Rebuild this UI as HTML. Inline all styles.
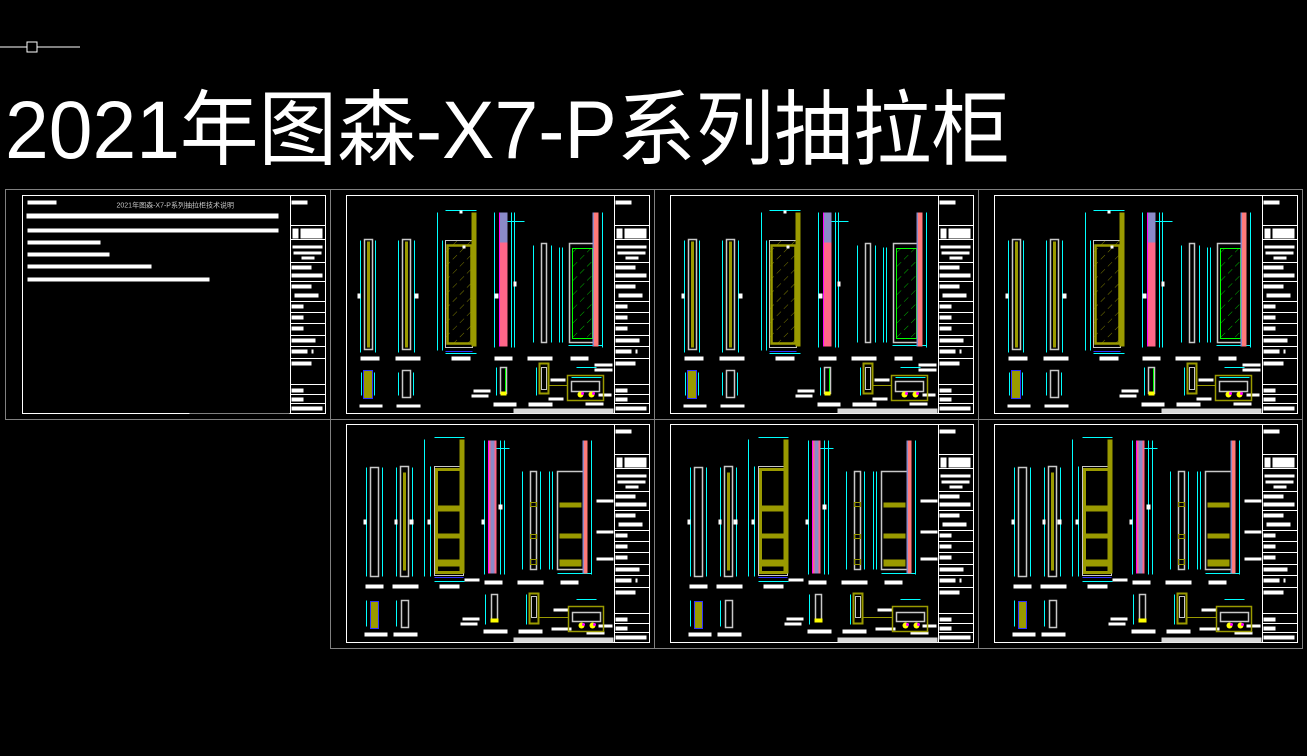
<!DOCTYPE html>
<html><head><meta charset="utf-8"><style>
html,body{margin:0;padding:0;background:#000;width:1307px;height:756px;overflow:hidden}
svg{display:block}
</style></head><body>
<svg width="1307" height="756" viewBox="0 0 1307 756" xmlns="http://www.w3.org/2000/svg">
<defs>
<g id="tb">
 <rect x="0" y="0" width="303" height="218" fill="none" stroke="#fff" stroke-width="1"/>
 <line x1="268" y1="0" x2="268" y2="218" stroke="#fff"/>
 <g stroke="#fff" stroke-width="1">
  <line x1="268" y1="30" x2="303" y2="30"/><line x1="268" y1="44" x2="303" y2="44"/>
  <line x1="268" y1="67" x2="303" y2="67"/><line x1="268" y1="86" x2="303" y2="86"/>
  <line x1="268" y1="106" x2="303" y2="106"/><line x1="268" y1="117" x2="303" y2="117"/>
  <line x1="268" y1="128" x2="303" y2="128"/><line x1="268" y1="140" x2="303" y2="140"/>
  <line x1="268" y1="151" x2="303" y2="151"/><line x1="268" y1="163" x2="303" y2="163"/>
  <line x1="268" y1="189" x2="303" y2="189"/><line x1="268" y1="199" x2="303" y2="199"/>
  <line x1="268" y1="208" x2="303" y2="208"/>
 </g>
 <g fill="#fff">
  <rect x="269" y="5" width="16" height="4"/>
  <rect x="270" y="33" width="6" height="10"/><rect x="278" y="33" width="22" height="10"/>
  <rect x="270" y="50" width="30" height="3"/><rect x="271" y="56" width="28" height="3"/><rect x="279" y="61" width="13" height="3"/>
  <rect x="269" y="70" width="20" height="4"/><rect x="269" y="78" width="31" height="4"/>
  <rect x="269" y="89" width="20" height="4"/><rect x="272" y="98" width="24" height="4"/>
  <rect x="269" y="109" width="12" height="4"/><rect x="269" y="120" width="12" height="4"/>
  <rect x="269" y="131" width="12" height="4"/><rect x="269" y="143" width="24" height="4"/>
  <rect x="269" y="154" width="16" height="4"/><rect x="289" y="154" width="2" height="4"/>
  <rect x="269" y="166" width="20" height="4"/>
  <rect x="269" y="193" width="12" height="4"/><rect x="269" y="202" width="12" height="4"/>
  <rect x="269" y="211" width="31" height="4"/>
 </g>
 <rect x="167" y="213" width="100" height="5" fill="#d8d8d8"/>
</g>
<pattern id="hatchO" width="10" height="10" patternUnits="userSpaceOnUse" patternTransform="rotate(-45)">
 <line x1="0" y1="0" x2="6" y2="0" stroke="#9a9a00" stroke-width="0.8"/>
</pattern>
<pattern id="hatchG" width="10" height="10" patternUnits="userSpaceOnUse" patternTransform="rotate(-45)">
 <line x1="0" y1="0" x2="6" y2="0" stroke="#00e000" stroke-width="0.8"/>
</pattern>
<g id="sheetA">
 <use href="#tb"/>
 <g stroke="#00ffff" stroke-width="1" fill="none">
  <line x1="14" y1="45" x2="14" y2="157"/><line x1="29" y1="45" x2="29" y2="157"/>
  <line x1="52" y1="45" x2="52" y2="157"/><line x1="68" y1="45" x2="68" y2="157"/>
  <line x1="91" y1="17" x2="91" y2="155"/><line x1="96" y1="45" x2="96" y2="155"/>
  <line x1="99" y1="15" x2="130" y2="15"/><line x1="99" y1="158" x2="130" y2="158"/>
  <line x1="148" y1="17" x2="148" y2="152"/><line x1="165" y1="17" x2="165" y2="152"/><line x1="168" y1="17" x2="168" y2="152"/>
  <line x1="161" y1="26" x2="178" y2="26"/>
  <line x1="187" y1="50" x2="187" y2="147"/><line x1="205" y1="50" x2="205" y2="147"/>
  <line x1="213" y1="52" x2="213" y2="147"/><line x1="216" y1="52" x2="216" y2="147"/>
  <line x1="256" y1="17" x2="256" y2="152"/><line x1="222" y1="150" x2="256" y2="150"/>
  <line x1="15" y1="177" x2="15" y2="200"/><line x1="28" y1="177" x2="28" y2="200"/>
  <line x1="52" y1="177" x2="52" y2="200"/><line x1="67" y1="177" x2="67" y2="200"/>
  <line x1="150" y1="172" x2="150" y2="200"/><line x1="190" y1="172" x2="190" y2="200"/>
  <line x1="230" y1="172" x2="250" y2="172"/><line x1="225" y1="182" x2="255" y2="182"/>
 </g>
 <rect x="18" y="44" width="8" height="110" fill="none" stroke="#c8c8c8" stroke-width="1.5"/>
 <rect x="20.5" y="46" width="3" height="106" fill="#9a9a00"/>
 <rect x="56" y="44" width="8" height="110" fill="none" stroke="#c8c8c8" stroke-width="1.5"/>
 <rect x="58.5" y="46" width="3" height="106" fill="#9a9a00"/>
 <rect x="99" y="45" width="27" height="107" fill="url(#hatchO)" stroke="#c8c8c8" stroke-width="1"/>
 <rect x="101" y="50" width="24" height="98" fill="none" stroke="#9a9a00" stroke-width="2.5"/>
 <line x1="99" y1="156" x2="126" y2="156" stroke="#3030ff"/>
 <rect x="125" y="17" width="5" height="134" fill="#9a9a00"/>
 <rect x="153" y="17" width="8" height="30" fill="#8a8ac8"/>
 <rect x="153" y="47" width="8" height="104" fill="#ff6688"/>
 <line x1="153" y1="17" x2="153" y2="151" stroke="#ff00ff"/>
 <rect x="195" y="48" width="5" height="99" fill="none" stroke="#c8c8c8" stroke-width="1.5"/>
 <rect x="223" y="48" width="25" height="99" fill="none" stroke="#c8c8c8" stroke-width="1.5"/>
 <rect x="226" y="53" width="20" height="90" fill="url(#hatchG)" stroke="#00ff00" stroke-width="1"/>
 <rect x="247" y="17" width="5" height="134" fill="#ff7a7a"/>
 <rect x="246" y="17" width="1.5" height="134" fill="#8a8ac8"/>
 <g fill="#fff">
  <rect x="14" y="161" width="19" height="4"/><rect x="49" y="161" width="25" height="4"/>
  <rect x="105" y="161" width="19" height="4"/><rect x="148" y="161" width="18" height="4"/>
  <rect x="181" y="161" width="25" height="4"/><rect x="224" y="161" width="18" height="4"/>
  <rect x="13" y="209" width="23" height="3"/><rect x="50" y="209" width="24" height="3"/>
  <rect x="147" y="207" width="23" height="4"/><rect x="182" y="207" width="24" height="4"/>
  <rect x="127" y="194" width="17" height="3"/><rect x="125" y="199" width="17" height="3"/>
  <rect x="204" y="183" width="15" height="3"/><rect x="202" y="202" width="15" height="3"/>
  <rect x="248" y="168" width="18" height="3"/><rect x="248" y="173" width="18" height="3"/>
  <rect x="252" y="198" width="13" height="3"/><rect x="239" y="207" width="18" height="3"/>
  <rect x="116" y="50" width="3" height="3"/><rect x="113" y="15" width="3" height="3"/>
  <rect x="11" y="98" width="3" height="5"/><rect x="68" y="98" width="4" height="5"/>
  <rect x="148" y="98" width="4" height="5"/><rect x="167" y="86" width="3" height="5"/>
 </g>
 <rect x="17" y="175" width="9" height="28" fill="#9a9a00" stroke="#3030ff" stroke-width="1"/>
 <rect x="56" y="175" width="8" height="27" fill="none" stroke="#c8c8c8" stroke-width="1.5"/>
 <rect x="154" y="172" width="6" height="26" fill="none" stroke="#c8c8c8" stroke-width="1.5"/>
 <line x1="159" y1="173" x2="159" y2="197" stroke="#00ff00"/>
 <rect x="154" y="196" width="6" height="4" fill="#ffff00"/>
 <rect x="193" y="168" width="9" height="30" fill="none" stroke="#9a9a00" stroke-width="2"/>
 <rect x="195" y="172" width="5" height="22" fill="none" stroke="#c8c8c8"/>
 <line x1="202" y1="190" x2="221" y2="190" stroke="#9a9a00"/>
 <rect x="221" y="180" width="36" height="25" fill="none" stroke="#9a9a00" stroke-width="1.5"/>
 <rect x="225" y="186" width="28" height="10" fill="none" stroke="#c8c8c8" stroke-width="1.5"/>
 <circle cx="234" cy="199" r="3" fill="#ffff00"/><circle cx="245" cy="199" r="3" fill="#ffff00"/>
 <circle cx="236" cy="198" r="1.5" fill="#ff00ff"/><circle cx="247" cy="198" r="1.5" fill="#ff00ff"/>
</g>
<g id="sheetB">
 <use href="#tb"/>
 <g stroke="#00ffff" stroke-width="1" fill="none">
  <line x1="20" y1="43" x2="20" y2="152"/><line x1="36" y1="43" x2="36" y2="152"/>
  <line x1="50" y1="43" x2="50" y2="152"/><line x1="66" y1="43" x2="66" y2="152"/>
  <line x1="78" y1="15" x2="78" y2="152"/><line x1="84" y1="42" x2="84" y2="152"/>
  <line x1="88" y1="13" x2="118" y2="13"/><line x1="88" y1="157" x2="118" y2="157"/>
  <line x1="138" y1="16" x2="138" y2="150"/><line x1="154" y1="16" x2="154" y2="150"/><line x1="158" y1="16" x2="158" y2="150"/>
  <line x1="150" y1="24" x2="163" y2="24"/>
  <line x1="176" y1="47" x2="176" y2="145"/><line x1="194" y1="47" x2="194" y2="145"/>
  <line x1="203" y1="47" x2="203" y2="145"/><line x1="206" y1="47" x2="206" y2="145"/>
  <line x1="245" y1="16" x2="245" y2="150"/><line x1="211" y1="149" x2="245" y2="149"/>
  <line x1="20" y1="176" x2="20" y2="202"/><line x1="50" y1="176" x2="50" y2="202"/>
  <line x1="139" y1="170" x2="139" y2="200"/><line x1="180" y1="170" x2="180" y2="200"/>
  <line x1="230" y1="175" x2="250" y2="175"/>
 </g>
 <rect x="24" y="43" width="8" height="109" fill="none" stroke="#c8c8c8" stroke-width="1.5"/>
 <rect x="54" y="42" width="8" height="110" fill="none" stroke="#c8c8c8" stroke-width="1.5"/>
 <rect x="56.5" y="48" width="3" height="98" fill="#9a9a00"/>
 <rect x="88" y="42" width="29" height="109" fill="none" stroke="#c8c8c8" stroke-width="1"/>
 <rect x="90" y="45" width="25" height="103" fill="none" stroke="#9a9a00" stroke-width="3"/>
 <rect x="90" y="81" width="25" height="6" fill="#9a9a00"/>
 <rect x="90" y="109" width="25" height="5" fill="#9a9a00"/>
 <rect x="90" y="135" width="25" height="7" fill="#9a9a00"/>
 <line x1="88" y1="153" x2="117" y2="153" stroke="#3030ff"/>
 <rect x="113" y="15" width="5" height="134" fill="#9a9a00"/>
 <rect x="142" y="16" width="8" height="133" fill="#ff6688"/>
 <rect x="144" y="16" width="4" height="133" fill="#8a8ac8"/>
 <line x1="142" y1="16" x2="142" y2="149" stroke="#ff00ff"/>
 <rect x="184" y="47" width="6" height="98" fill="none" stroke="#c8c8c8" stroke-width="1.5"/>
 <rect x="184" y="78" width="6" height="4" fill="none" stroke="#9a9a00"/>
 <rect x="184" y="110" width="6" height="4" fill="none" stroke="#9a9a00"/>
 <rect x="184" y="135" width="6" height="5" fill="none" stroke="#9a9a00"/>
 <rect x="211" y="47" width="26" height="98" fill="none" stroke="#c8c8c8" stroke-width="1.5"/>
 <rect x="213" y="78" width="22" height="5" fill="#9a9a00"/>
 <rect x="213" y="109" width="22" height="5" fill="#9a9a00"/>
 <rect x="213" y="135" width="22" height="7" fill="#9a9a00"/>
 <rect x="237" y="16" width="4" height="133" fill="#ff7a7a"/>
 <rect x="236" y="16" width="1.5" height="133" fill="#8a8ac8"/>
 <g fill="#fff">
  <rect x="250" y="75" width="17" height="3"/><rect x="250" y="106" width="17" height="3"/><rect x="250" y="133" width="17" height="3"/>
  <rect x="19" y="160" width="18" height="4"/><rect x="46" y="160" width="26" height="4"/>
  <rect x="93" y="160" width="20" height="4"/><rect x="138" y="156" width="18" height="4"/>
  <rect x="171" y="156" width="26" height="4"/><rect x="214" y="156" width="18" height="4"/>
  <rect x="118" y="154" width="15" height="3"/>
  <rect x="18" y="208" width="23" height="4"/><rect x="47" y="208" width="24" height="4"/>
  <rect x="137" y="205" width="24" height="4"/><rect x="172" y="205" width="24" height="4"/>
  <rect x="116" y="193" width="17" height="3"/><rect x="114" y="198" width="17" height="3"/>
  <rect x="207" y="184" width="15" height="3"/><rect x="205" y="203" width="20" height="3"/>
  <rect x="252" y="200" width="14" height="3"/><rect x="240" y="207" width="18" height="3"/>
  <rect x="17" y="95" width="3" height="5"/><rect x="48" y="95" width="3" height="5"/><rect x="63" y="95" width="4" height="5"/>
  <rect x="81" y="95" width="3" height="5"/><rect x="135" y="95" width="3" height="5"/><rect x="152" y="80" width="4" height="5"/>
 </g>
 <rect x="24" y="177" width="8" height="27" fill="#9a9a00" stroke="#3030ff" stroke-width="1"/>
 <rect x="55" y="176" width="7" height="27" fill="none" stroke="#c8c8c8" stroke-width="1.5"/>
 <rect x="145" y="170" width="6" height="26" fill="none" stroke="#c8c8c8" stroke-width="1.5"/>
 <rect x="144" y="194" width="8" height="4" fill="#ffff00"/>
 <rect x="183" y="169" width="9" height="30" fill="none" stroke="#9a9a00" stroke-width="2"/>
 <rect x="185" y="172" width="5" height="21" fill="none" stroke="#c8c8c8"/>
 <line x1="192" y1="193" x2="222" y2="193" stroke="#9a9a00"/>
 <rect x="222" y="182" width="35" height="25" fill="none" stroke="#9a9a00" stroke-width="1.5"/>
 <rect x="226" y="188" width="28" height="9" fill="none" stroke="#c8c8c8" stroke-width="1.5"/>
 <circle cx="235" cy="201" r="3" fill="#ffff00"/><circle cx="246" cy="201" r="3" fill="#ffff00"/>
 <circle cx="237" cy="200" r="1.5" fill="#ff00ff"/><circle cx="248" cy="200" r="1.5" fill="#ff00ff"/>
</g>
</defs>

<!-- top-left UCS-like marker -->
<line x1="0" y1="47" x2="80" y2="47" stroke="#fff" stroke-width="1"/>
<rect x="27" y="42" width="10" height="10" fill="#000" stroke="#fff" stroke-width="1"/>

<text x="5" y="158" fill="#fff" font-family="'Liberation Sans','Noto Sans CJK SC',sans-serif" font-size="82" textLength="1005" lengthAdjust="spacingAndGlyphs">2021年图森-X7-P系列抽拉柜</text>

<!-- outer gray frames -->
<g fill="none" stroke="#808080" stroke-width="1">
 <rect x="5.5" y="189.5" width="325" height="230"/>
 <rect x="330.5" y="189.5" width="324" height="230"/>
 <rect x="654.5" y="189.5" width="324" height="230"/>
 <rect x="978.5" y="189.5" width="324" height="230"/>
 <rect x="330.5" y="419.5" width="324" height="229"/>
 <rect x="654.5" y="419.5" width="324" height="229"/>
 <rect x="978.5" y="419.5" width="324" height="229"/>
</g>

<!-- sheet 1 (notes) -->
<g transform="translate(22.5,195.5)">
 <use href="#tb"/>
 <rect x="167" y="213" width="100" height="5" fill="#000"/>
 <text x="94" y="12" fill="#c8c8c8" font-family="'Liberation Sans','Noto Sans CJK SC',sans-serif" font-size="7">2021年图森-X7-P系列抽拉柜技术说明</text>
 <g fill="#fff">
  <rect x="5" y="5" width="29" height="4"/>
  <rect x="4" y="18" width="252" height="5"/>
  <rect x="5" y="33" width="251" height="4"/>
  <rect x="5" y="45" width="73" height="4"/>
  <rect x="5" y="57" width="82" height="4"/>
  <rect x="5" y="69" width="124" height="4"/>
  <rect x="5" y="82" width="182" height="4"/>
 </g>
</g>

<use href="#sheetA" transform="translate(346.5,195.5)"/>
<use href="#sheetA" transform="translate(670.5,195.5)"/>
<use href="#sheetA" transform="translate(994.5,195.5)"/>
<use href="#sheetB" transform="translate(346.5,424.5)"/>
<use href="#sheetB" transform="translate(670.5,424.5)"/>
<use href="#sheetB" transform="translate(994.5,424.5)"/>
</svg>
</body></html>
